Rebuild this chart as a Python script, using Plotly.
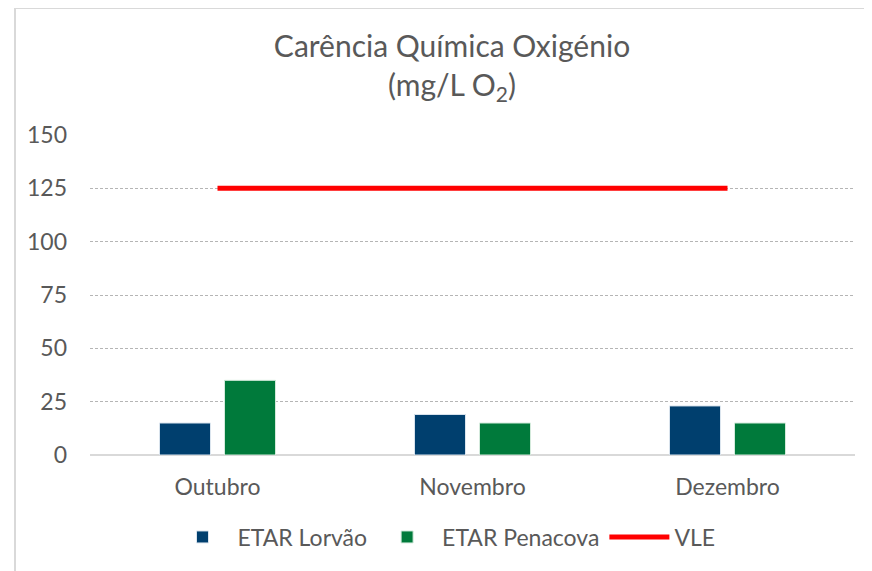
import plotly.graph_objects as go

months = ["Outubro", "Novembro", "Dezembro"]
lorvao = [15, 19, 23]
penacova = [35, 15, 15]
vle = [125, 125, 125]
y_ticks = [0, 25, 50, 75, 100, 125, 150]

TEXT = "#595959"
FONT = "Lato, 'Open Sans', sans-serif"

# plot area in figure pixels (page has an 8px body margin)
L, R, T, B = 82, 847, 127, 447
W, H = 872, 571

fig = go.Figure()
fig.add_trace(go.Bar(
    x=months, y=lorvao, name="ETAR Lorvão",
    marker={"color": "#003f6e", "line": {"color": "#dbe5ee", "width": 1}},
))
fig.add_trace(go.Bar(
    x=months, y=penacova, name="ETAR Penacova",
    marker={"color": "#007a3b", "line": {"color": "#d5ebdd", "width": 1}},
))
fig.add_trace(go.Scatter(
    x=months, y=vle, name="VLE", mode="lines",
    line={"color": "#ff0000", "width": 5},
))

px_x = lambda p: (p - L) / (R - L)
px_y = lambda p: (B - p) / (B - T)

fig.update_layout(
    width=W, height=H,
    margin={"l": L, "r": W - R, "t": T, "b": H - B},
    paper_bgcolor="white", plot_bgcolor="white",
    font={"family": FONT, "color": TEXT, "size": 23},
    title={
        "text": "Carência Química Oxigénio<br>(mg/L O<sub>2</sub>)",
        "x": px_x(444), "xref": "paper", "xanchor": "center",
        "y": 1 - 49 / H, "yref": "container", "yanchor": "top",
        "font": {"size": 30, "color": TEXT, "family": FONT},
    },
    barmode="group", bargap=0.49, bargroupgap=0.215,
    showlegend=True,
    legend={
        "orientation": "h", "x": px_x(436), "xanchor": "center",
        "y": px_y(529), "yanchor": "middle",
        "font": {"size": 23, "color": TEXT},
        "itemwidth": 60,
    },
    xaxis={
        "showgrid": False, "showline": False, "ticks": "",
        "ticklabelstandoff": 16,
        "tickfont": {"size": 23, "color": TEXT},
    },
    yaxis={
        "range": [0, 150], "tickvals": y_ticks,
        "showgrid": True, "gridcolor": "#b5b5b5", "gridwidth": 1,
        "griddash": "3px,2px",
        "zeroline": True, "zerolinecolor": "#d9d9d9", "zerolinewidth": 2,
        "ticks": "", "ticklabelstandoff": 22,
        "tickfont": {"size": 23, "color": TEXT},
    },
    shapes=[
        # outer chart border (left and top edges)
        {"type": "line", "xref": "paper", "yref": "paper",
         "x0": px_x(7), "x1": px_x(7), "y0": px_y(H + 20), "y1": px_y(0),
         "line": {"color": "#d9d9d9", "width": 2}},
        {"type": "line", "xref": "paper", "yref": "paper",
         "x0": px_x(7), "x1": px_x(W + 20), "y0": px_y(0), "y1": px_y(0),
         "line": {"color": "#d9d9d9", "width": 2}},
    ],
)

fig.write_html("out.html")
